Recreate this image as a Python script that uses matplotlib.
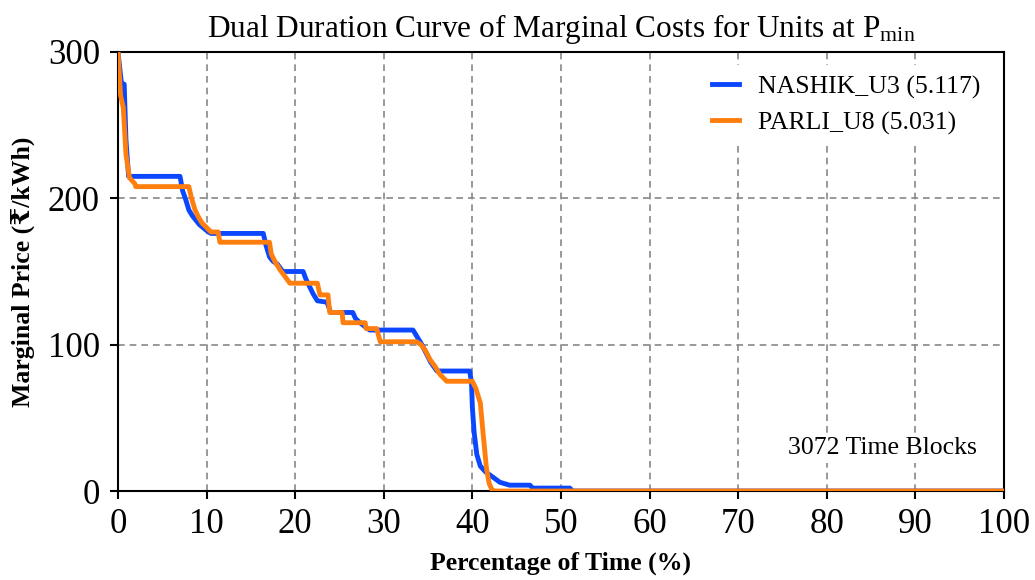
import matplotlib
matplotlib.use("Agg")
import matplotlib.pyplot as plt

plt.rcParams['font.family'] = ['Liberation Serif', 'DejaVu Serif', 'DejaVu Sans']
plt.rcParams['mathtext.fontset'] = 'custom'
plt.rcParams['mathtext.rm'] = 'Liberation Serif'
plt.rcParams['mathtext.it'] = 'Liberation Serif:italic'

title = "Dual Duration Curve of Marginal Costs for Units at P$_{\\mathrm{min}}$"
xlabel = "Percentage of Time (%)"
ylabel = "Marginal Price (₹/kWh)"
annotation = "3072 Time Blocks"

nashik_label = "NASHIK_U3 (5.117)"
nashik_x = [0, 0.4, 0.7, 0.9, 1.2, 7.0, 7.3, 7.6, 8.0, 8.4, 8.8, 9.2, 9.6, 10.0, 10.5,
            16.4, 16.7, 17.1, 17.5, 18.0, 18.6, 20.9, 21.2, 21.6, 22.0, 22.5, 23.6, 24.0,
            26.5, 26.8, 27.3, 28.4, 33.3, 33.8, 34.3, 34.8, 35.3, 36.0, 39.7, 39.9, 40.0,
            40.2, 40.5, 40.9, 41.5, 42.2, 43.1, 44.2, 46.5, 46.8, 51.0, 51.3, 100]
nashik_y = [300, 278, 278, 240, 215, 215, 205, 200, 192, 188, 185, 182, 180, 178, 176,
            176, 168, 160, 157, 155, 150, 150, 145, 140, 135, 130, 129, 122,
            122, 118, 115, 110, 110, 105, 100, 94, 88, 82, 82, 74, 57,
            40, 25, 17, 13, 10, 6, 4, 4, 2, 2, 0, 0]

parli_label = "PARLI_U8 (5.031)"
parli_x = [0, 0.3, 0.6, 0.9, 1.3, 1.9, 2.0, 8.0, 8.3, 8.7, 9.1, 9.5, 10.0, 10.5, 11.3, 11.5,
           17.1, 17.3, 17.7, 18.3, 18.8, 19.4, 22.5, 22.8, 23.7, 23.9, 25.3, 25.4, 27.9,
           28.0, 29.2, 29.6, 33.7, 34.2, 34.7, 35.2, 35.8, 36.3, 37.1, 40.0, 40.4, 40.9,
           41.2, 41.6, 41.9, 42.2, 42.4, 100]
parli_y = [300, 270, 262, 230, 214, 210, 208, 208, 200, 192, 187, 183, 180, 177, 177, 170,
           170, 162, 157, 151, 147, 142, 142, 134, 134, 122, 122, 115, 115,
           111, 111, 102, 102, 100, 96, 90, 85, 80, 75, 75, 70, 60,
           40, 15, 5, 1, 0, 0]

x_ticks = [0, 10, 20, 30, 40, 50, 60, 70, 80, 90, 100]
y_ticks = [0, 100, 200, 300]

fig = plt.figure(figsize=(10.35, 5.8), dpi=100)
ax = fig.add_axes([0.114, 0.1534, 0.856, 0.757])

ax.plot(nashik_x, nashik_y, color='#0a47ff', lw=3.5, label=nashik_label, zorder=3)
ax.plot(parli_x, parli_y, color='#ff7f0e', lw=3.5, label=parli_label, zorder=4)

ax.set_xlim(0, 100)
ax.set_ylim(0, 300)
ax.set_xticks(x_ticks)
ax.set_yticks(y_ticks)
ax.tick_params(axis='both', labelsize=25, length=6, width=1.5, direction='out', pad=7)
ax.tick_params(axis='x', pad=6)
for s in ax.spines.values():
    s.set_linewidth(1.5)
ax.grid(True, color='#888888', linestyle=(0, (4, 3)), linewidth=1.2)
ax.set_axisbelow(True)

ax.set_title(title, fontsize=22.5, pad=11)
ax.set_xlabel(xlabel, fontsize=18.5, fontweight='bold', labelpad=8)
ax.set_ylabel(ylabel, fontsize=18.5, fontweight='bold', labelpad=9)

leg = ax.legend(loc='upper right', fontsize=18.5, frameon=True, edgecolor='none',
                facecolor='white', framealpha=1, handlelength=1.05, handletextpad=0.75,
                borderaxespad=0.5, labelspacing=0.5)

ax.text(0.9695, 0.098, annotation, transform=ax.transAxes, ha='right', va='center', fontsize=18.5,
        bbox=dict(facecolor='white', edgecolor='none', pad=3), zorder=5)

fig.savefig("out.png", dpi=100)
